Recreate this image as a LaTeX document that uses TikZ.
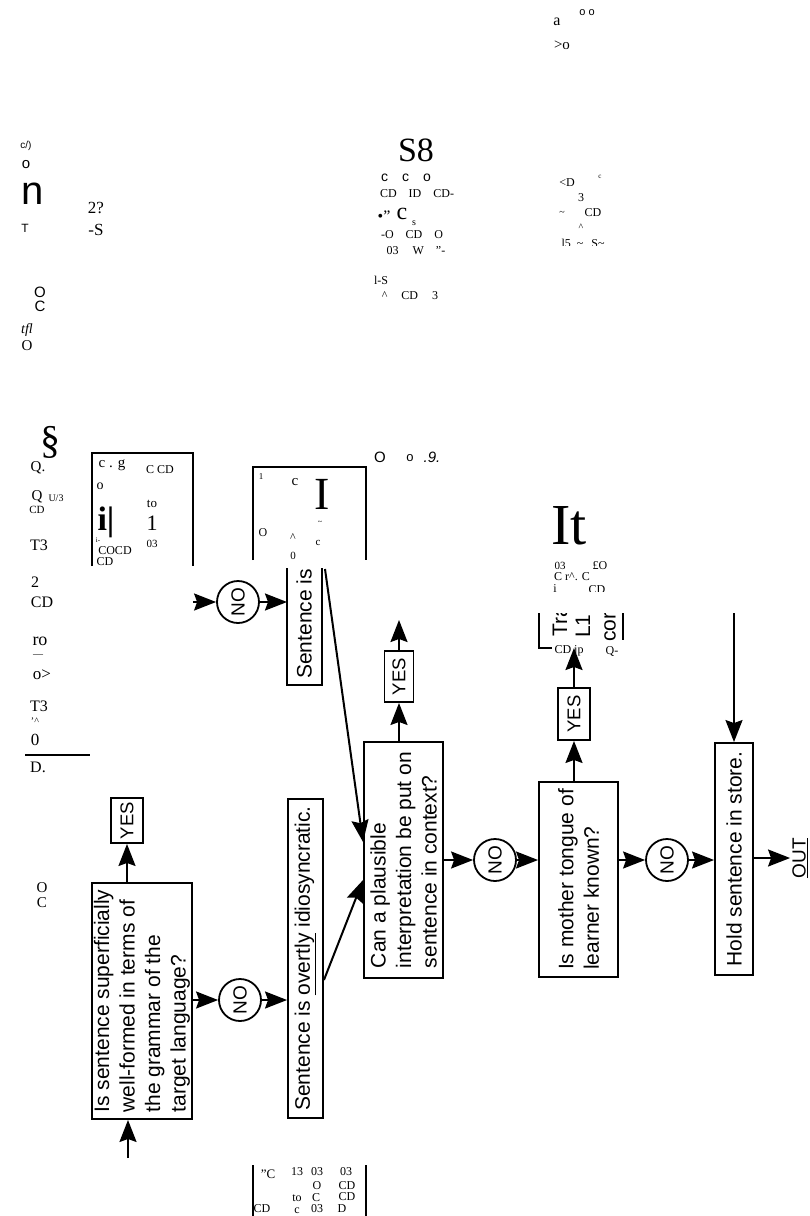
\documentclass[tikz,border=0pt]{standalone}
\usepackage{fontspec}
\setmainfont{Liberation Serif}
\setsansfont{Liberation Sans}
\usetikzlibrary{arrows.meta,calc}
\begin{document}
\begin{tikzpicture}[x=1pt,y=-1pt,
  lw/.style={line width=1.8pt},
  fbox/.style={draw,line width=1.9pt,rotate=90,font=\sffamily\fontsize{21}{25.5}\selectfont,align=left,inner sep=0pt},
  yesbox/.style={draw,line width=1.9pt,rotate=90,font=\sffamily\fontsize{18.5}{18.5}\selectfont,inner sep=0pt},
  nocirc/.style={draw,circle,line width=1.8pt,rotate=90,font=\sffamily\fontsize{19}{19}\selectfont,inner sep=0pt,minimum size=42pt},
  arr/.style={line width=2pt,-{Stealth[length=22pt,width=17pt,inset=3pt]}},
  g/.style={inner sep=0pt,font=\fontsize{#1}{#1}\selectfont},
  gs/.style={inner sep=0pt,font=\sffamily\fontsize{#1}{#1}\selectfont},
  rt/.style={rotate=90,anchor=west,inner sep=0pt,font=\sffamily\fontsize{21}{21}\selectfont}
]
\useasboundingbox (0,0) rectangle (810,1216);

% ---------- flowchart boxes ----------
\node[fbox,minimum width=236pt,minimum height=100pt] (box1) at (142,1001)
  {Is sentence superficially\\well-formed in terms of\\the grammar of the\\target language?};
\node[fbox,minimum width=319pt,minimum height=35pt] (box2) at (305.5,958.5)
  {Sentence is \underline{overtly} idiosyncratic.};
\node[fbox,minimum width=236pt,minimum height=79pt] (box3) at (403.5,860)
  {Can a plausible\\interpretation be put on\\sentence in context?};
\node[fbox,minimum width=195pt,minimum height=79pt] (box4) at (578.5,879.5)
  {Is mother tongue of\\learner known?};
\node[fbox,minimum width=232pt,minimum height=38pt] (box5) at (734,859)
  {Hold sentence in store.};

\node[yesbox,minimum width=45pt,minimum height=32pt] (yes1) at (127,820.5) {YES};
\node[yesbox,minimum width=51pt,minimum height=29pt] (yes3) at (399,676.5) {YES};
\node[yesbox,minimum width=52pt,minimum height=32pt] (yes4) at (574,714) {YES};

\node[nocirc] (no1) at (240,1000) {NO};
\node[nocirc] (no2) at (238,602) {NO};
\node[nocirc] (no3) at (495,860) {NO};
\node[nocirc] (no4) at (667,860) {NO};

\node[rotate=90,inner sep=2pt,font=\sffamily\fontsize{19}{19}\selectfont] (out) at (800,858) {\underline{OUT}};

% upper "Sentence is" box fragment
\node[rt] (s2) at (304,679) {Sentence is};
\draw[lw] (287,568) -- (287,685) -- (322,685) -- (322,568);
\coordinate (s2b) at (287,685);

% Translate box fragment
\begin{scope}
  \clip (530,613) rectangle (630,648);
  \node[rt] (tr1) at (560,637) {Tra};
  \node[rt] (tr2) at (583,638) {L1.};
  \node[rt] (tr3) at (610,642) {cor};
\end{scope}
\draw[lw] (539,613) -- (539,648) -- (552,648);
\draw[lw] (623,613) -- (623,640);
\coordinate (trb) at (573,648);

% ---------- connectors ----------
\coordinate (in1) at (128,1158);
\coordinate (h980) at (0,980);
\coordinate (h880) at (0,880);
\coordinate (h842) at (0,842);
\coordinate (top2) at (325,569);
\coordinate (a2) at (193,602);
\coordinate (u3) at (399,620);
\coordinate (t5) at (734,613);

\draw[arr] (in1) -- (in1 |- box1.west);
\draw[arr] (yes1 |- box1.east) -- (yes1.west);
\draw[arr] (box1.south |- no1) -- (no1);
\draw[arr] (no1) -- (no1 -| box2.north);
\draw[arr] (box2.south |- h980) -- (box3.north |- h880);
\draw[arr] (top2) -- (box3.north |- h842);
\draw[arr] (a2) -- (no2);
\draw[arr] (no2) -- (no2 -| s2b);
\draw[arr] (yes3 |- box3.east) -- (yes3.west);
\draw[arr] (yes3.east) -- (u3);
\draw[arr] (box3.south |- no3) -- (no3);
\draw[arr] (no3) -- (no3 -| box4.north);
\draw[arr] (yes4 |- box4.east) -- (yes4.west);
\draw[arr] (yes4.east) -- (yes4 |- trb);
\draw[arr] (box4.south |- no4) -- (no4);
\draw[arr] (no4) -- (no4 -| box5.north);
\draw[arr] (box5.south |- out) -- (out.north);
\draw[arr] (t5) -- (box5.east);

% ---------- scanned (OCR) residue ----------
\node[g=16] (t01) at (557,22) {a};
\node[gs=11] (t02) at (587,13) {o o};
\node[g=15] (t03) at (562,45) {>o};

\node[gs=10] (t04) at (26,146) {c/)};
\node[gs=15] (t05) at (26,165) {o};
\node[gs=40] (t06) at (33,194) {n};
\node[gs=12] (t07) at (25,228) {T};
\node[g=17] (t08) at (96,208) {2?};
\node[g=17] (t09) at (96,230) {-S};

\node[g=34] (t10) at (416,150) {S8};
\node[gs=14] (t11) at (406,178) {c\hspace{14pt}c\hspace{14pt}o};
\node[g=12] (t12) at (417,194) {CD\hspace{12pt}ID\hspace{12pt}CD-};
\node[g=16] (t13) at (384,216) {•"};
\node[g=24] (t14) at (402,214) {c};
\node[g=10] (t15) at (414,223) {s};
\node[g=12] (t16) at (412,235) {-O\hspace{12pt}CD\hspace{12pt}O};
\node[g=12] (t17) at (416,251) {03\hspace{14pt}W\hspace{12pt}"-};
\node[g=12] (t18) at (381,280) {l-S};
\node[g=12] (t19) at (410,296) {\textasciicircum\hspace{14pt}CD\hspace{14pt}3};

\node[g=12] (t20) at (567,183) {<D};
\node[g=7] (t21) at (600,177) {c};
\node[g=12] (t22) at (581,198) {3};
\node[g=10] (t23) at (562,213) {\textasciitilde};
\node[g=12] (t24) at (593,213) {CD};
\node[g=10] (t25) at (581,227) {\textasciicircum};
\begin{scope}
  \clip (540,230) rectangle (620,245);
  \node[g=12] (t26) at (583,243) {l5\hspace{6pt}\textasciitilde\hspace{8pt}S\textasciitilde};
\end{scope}

\node[gs=15] (t27) at (40,292) {O};
\node[gs=15] (t28) at (40,306) {C};
\node[g=14,font=\itshape\fontsize{14}{14}\selectfont] (t29) at (27,330) {tfl};
\node[g=15] (t30) at (27,346) {O};

\node[g=40] (t31) at (50,442) {\S};
\node[g=15] (t32) at (38,468) {Q.};
\node[g=15] (t33) at (37,497) {Q};
\node[g=10] (t34) at (56,498) {U/3};
\node[g=11] (t35) at (37,510) {CD};
\node[g=16] (t36) at (39,545) {T3};
\node[g=16] (t37) at (35,582) {2};
\node[g=16] (t38) at (42,602) {CD};
\node[g=18] (t39) at (40,641) {ro};
\node[g=10] (t40) at (38,656) {—};
\node[g=17] (t41) at (42,675) {o>};
\node[g=16] (t42) at (39,706) {T3};
\node[g=10] (t43) at (35,721) {'\textasciicircum};
\node[g=17] (t44) at (35,740) {0};
\draw[lw] (25,755) -- (90,755);
\node[g=16] (t45) at (38,767) {D.};
\node[g=15] (t46) at (42,888) {O};
\node[g=15] (t47) at (42,903) {C};

% first residue box
\draw[lw] (92,566) -- (92,453) -- (193,453) -- (193,566);
\node[g=15] (t48) at (112,465) {c . g};
\node[g=12] (t49) at (160,470) {C CD};
\node[g=14] (t50) at (100,486) {o};
\node[g=13] (t51) at (152,504) {to};
\node[g=34,font=\bfseries\fontsize{34}{34}\selectfont] (t52) at (106,522) {i|};
\node[g=22] (t53) at (152,523) {1};
\node[g=7] (t54) at (98,540) {i-};
\node[g=11] (t55) at (152,544) {03};
\node[g=12] (t56) at (115,551) {COCD};
\node[g=12] (t57) at (105,562) {CD};

% second residue box
\draw[lw] (253,560) -- (253,467) -- (366,467) -- (366,560);
\node[g=9] (t58) at (261,477) {1};
\node[g=15] (t59) at (295,482) {c};
\node[g=46] (t60) at (322,494) {I};
\node[g=12] (t61) at (263,533) {O};
\node[g=12] (t62) at (293,538) {\textasciicircum};
\node[g=8] (t63) at (320,523) {\textasciitilde};
\node[g=11] (t64) at (318,543) {c};
\node[g=11] (t65) at (293,556) {0};

\node[gs=15] (t66) at (380,457) {O};
\node[gs=13] (t67) at (410,458) {o};
\node[gs=15,font=\sffamily\itshape\fontsize{15}{15}\selectfont] (t68) at (432,457) {.9.};

\node[g=58] (t69) at (569,526) {It};
\begin{scope}
  \clip (540,555) rectangle (620,591);
  \node[g=11] (t70) at (560,566) {03};
  \node[g=12] (t71) at (600,566) {£O};
  \node[g=12] (t72) at (572,577) {C r\textasciicircum. C};
  \node[g=12] (t73) at (555,589) {i};
  \node[g=12] (t74) at (597,590) {CD};
\end{scope}
\node[g=12] (t75) at (569,651) {CD jp};
\node[g=12] (t76) at (612,651) {Q-};

% bottom residue
\draw[lw] (253,1165) -- (253,1216);
\draw[lw] (366,1165) -- (366,1216);
\node[g=13] (t77) at (268,1174) {"C};
\node[g=12] (t78) at (297,1172) {13};
\node[g=12] (t79) at (317,1172) {03};
\node[g=12] (t80) at (346,1172) {03};
\node[g=12] (t81) at (317,1186) {O};
\node[g=12] (t82) at (347,1186) {CD};
\node[g=12] (t83) at (297,1198) {to};
\node[g=12] (t84) at (316,1198) {C};
\node[g=12] (t85) at (347,1197) {CD};
\node[g=12] (t86) at (262,1209) {CD};
\node[g=12] (t87) at (297,1211) {c};
\node[g=12] (t88) at (317,1209) {03};
\node[g=12] (t89) at (342,1209) {D};
\end{tikzpicture}
\end{document}
